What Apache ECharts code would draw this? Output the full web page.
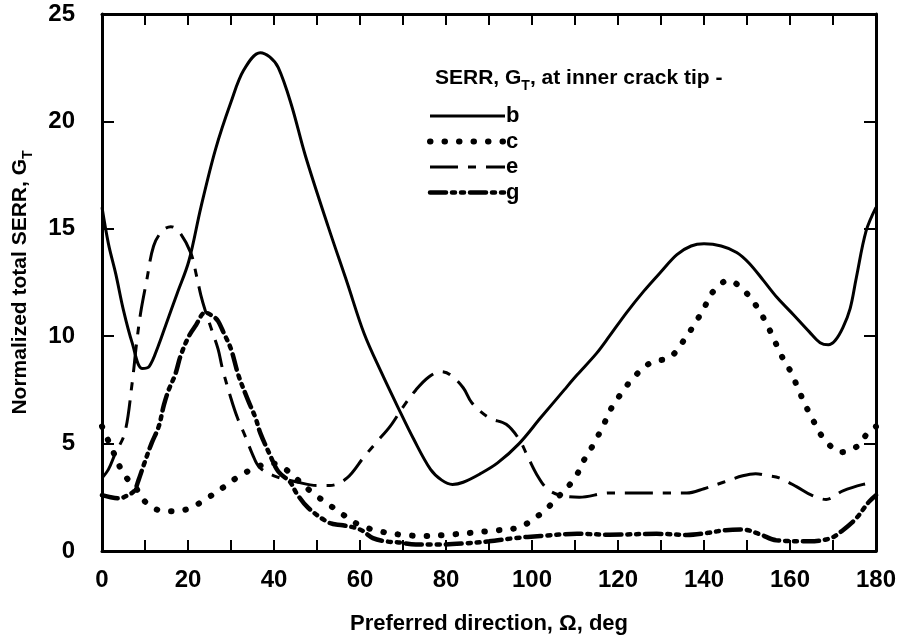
<!DOCTYPE html>
<html>
<head>
<meta charset="utf-8">
<script src="https://cdn.jsdelivr.net/npm/echarts@6/dist/echarts.min.js"></script>
<style>html,body{margin:0;padding:0;background:#fff}#c{width:904px;height:641px}</style>
</head>
<body>
<div id="c"></div>
<script>
const xTicks = [0, 20, 40, 60, 80, 100, 120, 140, 160, 180];
const yTicks = [0, 5, 10, 15, 20, 25];
const seriesNames = ['b', 'c', 'e', 'g'];

// [angle (deg), normalized total SERR]
const bData = [[0,16.0],[1.5,14.3],[3.2,12.9],[5,11.2],[7,9.7],[9.3,8.5],[11,8.6],[13,9.5],[14.8,10.5],[17.5,12],[20.2,13.5],[23,16],[26.4,18.7],[30,20.9],[33,22.4],[36.8,23.2],[39,23.0],[41,22.5],[44,20.8],[47.3,18.4],[52.6,15.1],[57,12.5],[61,10.1],[65,8.3],[68.8,6.7],[72.5,5.2],[76.4,3.8],[79,3.3],[81.5,3.1],[84,3.2],[88,3.6],[92,4.1],[97,5.0],[102,6.2],[107.5,7.5],[110.5,8.2],[115,9.2],[118,10.0],[122,11.1],[126,12.1],[130,13.0],[133.7,13.8],[137,14.2],[140,14.3],[144,14.2],[147.6,13.9],[150.5,13.4],[153.8,12.6],[157,11.8],[160.8,11.0],[164.5,10.2],[167,9.7],[168.9,9.6],[170.5,9.8],[172.3,10.4],[174,11.3],[175.4,12.7],[177.7,14.9],[180,16.0]];
const cData = [[0,5.8],[2,4.9],[5,3.6],[8,2.9],[10,2.3],[12.5,1.95],[15,1.85],[17,1.85],[20.5,2.0],[24,2.4],[28.5,3.0],[32,3.5],[36,3.9],[39,4.1],[42,3.9],[45,3.4],[49,2.7],[52.5,2.2],[56,1.7],[60,1.2],[65,0.9],[70,0.75],[75,0.7],[80,0.75],[86,0.85],[91,0.95],[96,1.05],[99,1.3],[103,1.9],[106.5,2.6],[110,3.4],[112,4.2],[114.4,5.0],[116.7,5.9],[118.6,6.7],[121,7.4],[123.7,8.1],[127.9,8.8],[132,9.0],[135.3,9.8],[137.6,10.5],[140,11.3],[141.8,12.0],[145.7,12.6],[149.4,12.1],[152.2,11.4],[154.5,10.6],[156.4,9.8],[158,9.1],[160.3,8.3],[162,7.5],[163.8,6.7],[165.6,6.0],[168,5.2],[171.9,4.6],[175.8,4.9],[178.4,5.6],[180,5.8]];
const eData = [[0,3.4],[1.5,3.8],[3,4.5],[5.3,5.5],[7,7.8],[8,9.6],[9,11.1],[10.4,12.6],[12,14.2],[14,14.9],[16,15.1],[17.8,14.9],[20.6,13.9],[22,12.8],[23,11.9],[24,11.2],[25.5,10.3],[27,9.4],[28,8.5],[30,7.1],[31.5,6.2],[33.4,5.3],[35,4.5],[36.6,3.9],[40,3.5],[45.6,3.2],[50,3.05],[53,3.05],[57,3.4],[61,4.4],[64,5.1],[67,5.8],[70,6.7],[73,7.5],[76,8.1],[78.8,8.35],[81,8.2],[84,7.6],[86,6.9],[90,6.2],[94,5.9],[97,5.2],[99,4.4],[101,3.6],[103.5,2.9],[106.5,2.6],[111,2.5],[118,2.7],[124,2.7],[131.8,2.7],[136,2.7],[140,2.9],[144.5,3.2],[149,3.5],[152,3.6],[155,3.5],[157.5,3.4],[161.5,3.0],[165,2.6],[168.4,2.4],[172.3,2.8],[177,3.1],[180,3.2]];
const gData = [[0,2.6],[2,2.5],[4,2.45],[6,2.6],[7.5,2.8],[8.5,3.3],[9.7,4.0],[11.5,5.0],[13.2,5.8],[14.4,6.8],[15.5,7.5],[17,8.2],[18.3,9.1],[20.2,10.0],[21.8,10.5],[24,11.1],[26,10.9],[27,10.7],[28.2,10.2],[30,9.4],[31.7,8.2],[34,7.0],[35.7,6.2],[36.8,5.5],[39,4.5],[41,3.7],[43.8,3.2],[45.2,2.7],[48,2.0],[53,1.3],[56,1.2],[60,1.0],[63,0.6],[66,0.45],[69,0.4],[73,0.3],[78,0.3],[84,0.35],[90,0.45],[96,0.6],[102,0.7],[110.5,0.8],[118,0.76],[129,0.8],[136,0.75],[141,0.85],[145,0.97],[149,1.0],[153,0.78],[156.8,0.5],[164.5,0.45],[169.5,0.6],[172.3,0.97],[175.3,1.5],[178.4,2.3],[180,2.6]];

const FONT = '"Liberation Sans", Arial, Helvetica, sans-serif';
const black = '#000';

const chart = echarts.init(document.getElementById('c'), null, {renderer: 'canvas'});

function xAxisDef(pos, labels) {
  return {
    type: 'value', position: pos, min: xTicks[0], max: xTicks[xTicks.length - 1], interval: 20,
    axisLine: {show: true, onZero: false, lineStyle: {color: black, width: 3}},
    axisTick: {show: true, inside: true, length: 11, lineStyle: {color: black, width: 2}},
    minorTick: {show: true, splitNumber: 2, length: 11, lineStyle: {color: black, width: 2}},
    splitLine: {show: false},
    axisLabel: {show: labels, color: black, fontSize: 24, fontWeight: 'bold', fontFamily: FONT, margin: 17},
    name: labels ? 'Preferred direction, \u03A9, deg' : '',
    nameLocation: 'middle', nameGap: 62,
    nameTextStyle: {color: black, fontSize: 22, fontWeight: 'bold', fontFamily: FONT}
  };
}
function yAxisDef(pos, labels) {
  return {
    type: 'value', position: pos, min: yTicks[0], max: yTicks[yTicks.length - 1], interval: 5,
    axisLine: {show: true, onZero: false, lineStyle: {color: black, width: 3}},
    axisTick: {show: true, inside: true, length: 12, lineStyle: {color: black, width: 2}},
    splitLine: {show: false},
    axisLabel: {show: labels, color: black, fontSize: 24, fontWeight: 'bold', fontFamily: FONT, margin: 27},
    name: labels ? '{a|Normalized total SERR, G}{s|T}' : '',
    nameLocation: 'middle', nameGap: 67,
    nameTextStyle: {
      rich: {
        a: {color: black, fontSize: 21, fontWeight: 'bold', fontFamily: FONT, lineHeight: 30},
        s: {color: black, fontSize: 14, fontWeight: 'bold', fontFamily: FONT, lineHeight: 14, verticalAlign: 'bottom'}
      }
    }
  };
}

const styles = {
  b: {width: 3, type: 'solid'},
  c: {width: 6, type: [0.5, 14], cap: 'round'},
  e: {width: 3, type: [28, 10, 8, 10]},
  g: {width: 4.5, type: [16, 6, 3, 6, 3, 6], cap: 'round'}
};
const dataMap = {b: bData, c: cData, e: eData, g: gData};

chart.setOption({
  animation: false,
  backgroundColor: '#fff',
  title: {
    text: '{a|SERR, G}{s|T}{a|, at inner crack tip -}',
    left: 430, top: 58,
    textStyle: {
      rich: {
        a: {color: black, fontSize: 21, fontWeight: 'bold', fontFamily: FONT, lineHeight: 30},
        s: {color: black, fontSize: 14, fontWeight: 'bold', fontFamily: FONT, lineHeight: 14, verticalAlign: 'bottom'}
      }
    }
  },
  legend: {
    data: seriesNames.map(n => ({
      name: n,
      itemStyle: {opacity: 0, borderWidth: 0},
      lineStyle: Object.assign({color: black}, styles[n])
    })),
    orient: 'vertical', left: 422, top: 99,
    itemWidth: 75, itemHeight: 14, itemGap: 1.5,
    itemStyle: {opacity: 0, borderWidth: 0},
    textStyle: {color: black, fontSize: 22, fontWeight: 'bold', fontFamily: FONT, lineHeight: 24, padding: [0, 0, 0, -4]}
  },
  grid: {left: 102, right: 28, top: 14, bottom: 90, show: false, outerBoundsMode: 'none'},
  xAxis: [xAxisDef('bottom', true), xAxisDef('top', false)],
  yAxis: [yAxisDef('left', true), yAxisDef('right', false)],
  series: seriesNames.map(n => ({
    name: n, type: 'line', xAxisIndex: 0, yAxisIndex: 0,
    data: dataMap[n], smooth: 0.35, symbol: 'none', showSymbol: false,
    lineStyle: Object.assign({color: black}, styles[n]),
    itemStyle: {color: black}
  }))
});
</script>
</body>
</html>
